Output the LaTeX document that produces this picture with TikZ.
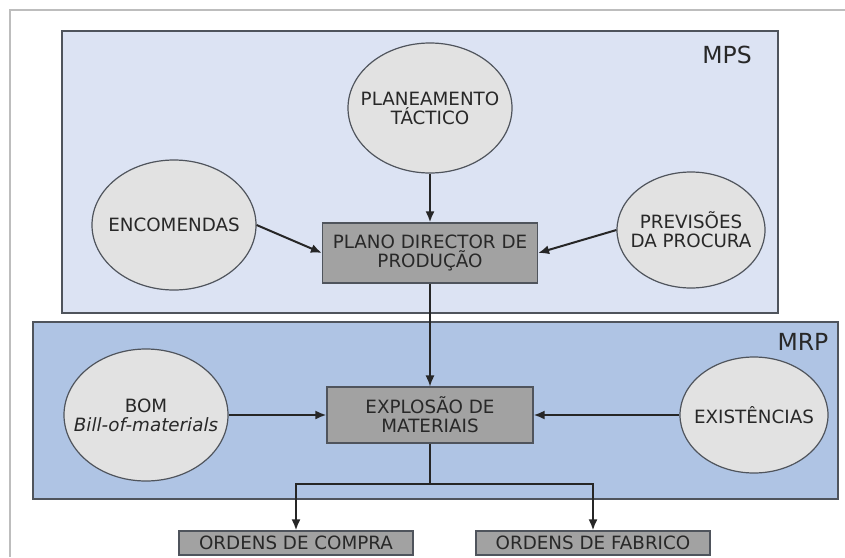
\documentclass[tikz,border=0pt]{standalone}
\usepackage{fontspec}
\setmainfont{DejaVu Sans}
\usetikzlibrary{shapes.geometric, positioning, arrows.meta}

\definecolor{mpsfill}{HTML}{DCE3F3}
\definecolor{mrpfill}{HTML}{AFC4E4}
\definecolor{bubblefill}{HTML}{E2E2E2}
\definecolor{boxfill}{HTML}{A2A2A2}
\definecolor{edgegray}{HTML}{4F545C}
\definecolor{ink}{HTML}{282828}
\definecolor{framegray}{HTML}{BDBDBD}

\tikzset{
  bubble/.style={ellipse, draw=edgegray, line width=1.2pt, fill=bubblefill,
    text=ink, align=center, inner xsep=-30pt, inner ysep=-10pt},
  task/.style={rectangle, draw=edgegray, line width=1.2pt, fill=boxfill,
    text=ink, align=center, inner sep=0pt},
  zone/.style={draw=edgegray, line width=1.3pt},
  zonelabel/.style={text=ink, font=\fontsize{23.5}{25}\selectfont},
  flow/.style={-{Latex[length=11pt,width=9pt]}, line width=2pt, draw=black!85},
}

\begin{document}
\begin{tikzpicture}[x=1pt, y=-1pt, on grid, font=\fontsize{18.3}{19}\selectfont]
    \useasboundingbox (0,0) rectangle (845,557);
    \draw[framegray, line width=1.5pt] (845,10) -- (10,10) -- (10,557);

    % the two zones
    \draw[zone, fill=mpsfill] (62,31) rectangle (778,313);
    \draw[zone, fill=mrpfill] (33,322) rectangle (838,499);
    \node[zonelabel] (mps) at (727,55) {MPS};
    \node[zonelabel] (mrp) at (803,342) {MRP};

    % MPS
    \node[task, minimum width=215pt, minimum height=60pt] (plano) at (430,253)
        {PLANO DIRECTOR DE\\PRODUÇÃO};
    \node[bubble, minimum width=164pt, minimum height=130pt] (tactico)
        [above=145pt of plano] {PLANEAMENTO\\TÁCTICO};
    \node[bubble, minimum width=164pt, minimum height=130pt] (encomendas)
        [above left=28pt and 256pt of plano] {ENCOMENDAS};
    \node[bubble, minimum width=148pt, minimum height=116pt] (previsoes)
        [above right=23pt and 261pt of plano] {PREVISÕES\\DA PROCURA};

    % MRP
    \node[task, minimum width=206pt, minimum height=56pt] (explosao)
        [below=162pt of plano] {EXPLOSÃO DE\\MATERIAIS};
    \node[bubble, minimum width=164pt, minimum height=132pt] (bom)
        [left=284pt of explosao] {BOM\\\textit{Bill-of-materials}};
    \node[bubble, minimum width=148pt, minimum height=116pt] (existencias)
        [right=324pt of explosao] {EXISTÊNCIAS};

    % outputs
    \node[task, minimum width=234pt, minimum height=24pt] (compra)
        [below left=128pt and 134pt of explosao] {ORDENS DE COMPRA};
    \node[task, minimum width=234pt, minimum height=24pt] (fabrico)
        [below right=128pt and 163pt of explosao] {ORDENS DE FABRICO};
    \coordinate (split) at (430,484);

    \draw[flow] (tactico) -- (plano);
    \draw[flow] (encomendas.east) -- (plano.west);
    \draw[flow] (previsoes.west) -- (plano.east);
    \draw[flow, line width=1.3pt] (plano) -- (explosao);
    \draw[flow] (bom) -- (explosao);
    \draw[flow] (existencias) -- (explosao);
    \draw[line width=2pt, draw=black!85] (explosao) -- (split);
    \draw[flow] (split) -| (compra);
    \draw[flow] (split) -| (fabrico);
\end{tikzpicture}
\end{document}
